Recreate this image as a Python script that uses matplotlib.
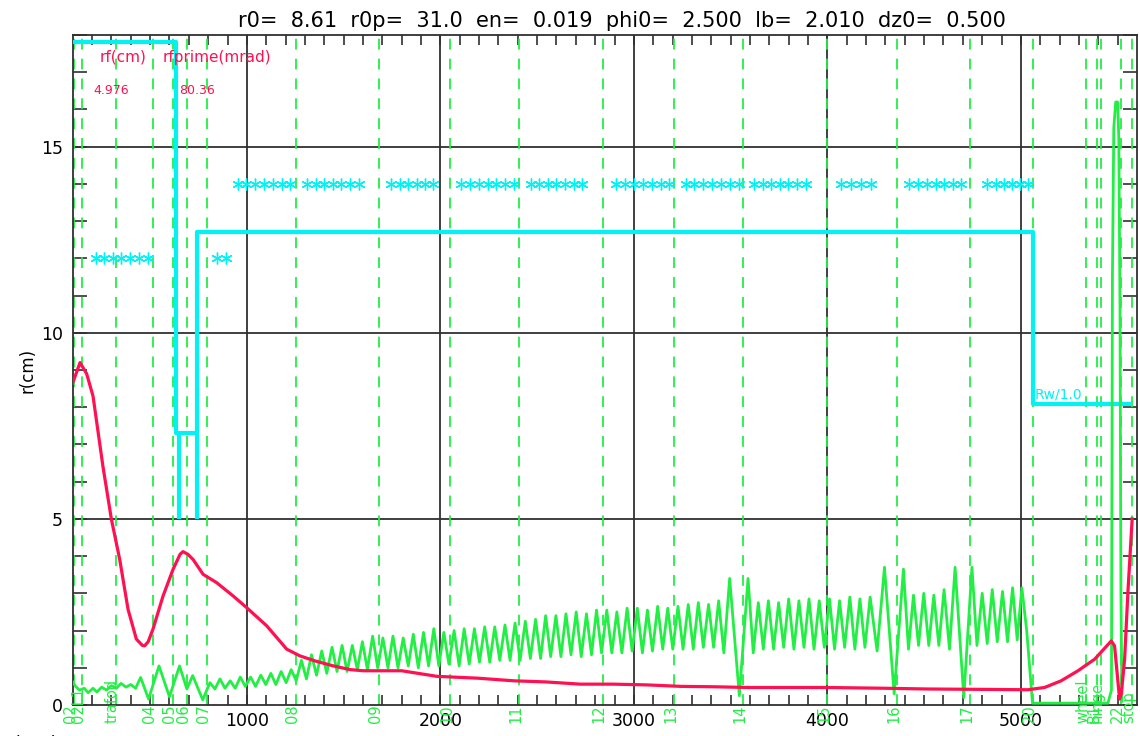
import numpy as np
import matplotlib
matplotlib.use("Agg")
import matplotlib.pyplot as plt
import matplotlib.transforms as mtransforms

plt.rcParams['font.family'] = ['DejaVu Sans']

title = "r0=  8.61  r0p=  31.0  en=  0.019  phi0=  2.500  lb=  2.010  dz0=  0.500"

# beam envelope r(z) (red)
red_z = [100, 138, 172, 205, 256, 300, 343, 386, 429, 460, 472, 490, 515, 567, 619, 655,
         670, 695, 722, 774, 843, 929, 998, 1102, 1206, 1274, 1355, 1447, 1535, 1602, 1700,
         1800, 1982, 2195, 2379, 2545, 2724, 2895, 3069, 3245, 3414, 3595, 3759, 4001,
         4295, 4518, 4795, 5036, 5122, 5208, 5295, 5381, 5467, 5484, 5510, 5519, 5536,
         5553, 5575]
red_r = [8.65, 9.2, 8.9, 8.3, 6.42, 4.99, 3.91, 2.57, 1.77, 1.6, 1.59, 1.7, 2.04, 2.93,
         3.65, 4.05, 4.12, 4.05, 3.91, 3.51, 3.29, 2.93, 2.62, 2.13, 1.50, 1.32, 1.18,
         1.05, 0.95, 0.92, 0.92, 0.92, 0.77, 0.72, 0.65, 0.62, 0.56, 0.56, 0.54, 0.50,
         0.49, 0.47, 0.47, 0.47, 0.45, 0.43, 0.42, 0.41, 0.47, 0.65, 0.92, 1.23, 1.72,
         1.59, 0.16, 0.30, 1.23, 3.03, 5.0]

# green oscillating trace, early part
green_z_a = [100, 115, 135, 160, 180, 205, 225, 250, 275, 300, 325, 350, 375, 400, 425,
             451, 492, 546, 600, 652, 690, 720, 772]
green_r_a = [0.62, 0.50, 0.40, 0.45, 0.33, 0.45, 0.35, 0.48, 0.40, 0.52, 0.45, 0.58,
             0.48, 0.55, 0.45, 0.74, 0.16, 1.05, 0.22, 1.05, 0.43, 0.79, 0.14]

# green oscillating trace, main part (alternating peaks and troughs)
green_z_b = [809, 835, 861, 887, 914, 940, 966, 992, 1019, 1045, 1072, 1098, 1124, 1150,
             1177, 1203, 1229, 1255, 1282, 1308, 1334, 1360, 1387, 1413, 1440, 1466,
             1492, 1518, 1545, 1571, 1597, 1623, 1650, 1676, 1703, 1729, 1755, 1781,
             1808, 1834, 1860, 1886, 1913, 1939, 1966, 1992, 2018, 2044, 2071, 2097,
             2123, 2149, 2176, 2202, 2229, 2255, 2281, 2307, 2334, 2360, 2386, 2412,
             2439, 2465, 2492, 2518, 2544, 2570, 2597, 2623, 2649, 2675, 2702, 2728,
             2755, 2781, 2807, 2833, 2860, 2886, 2912, 2938, 2965, 2991, 3018, 3044,
             3070, 3096, 3123, 3149, 3175, 3201, 3228, 3254, 3281, 3307, 3333, 3359,
             3386, 3412, 3438, 3465, 3495, 3545, 3590, 3617, 3643, 3669, 3695, 3722,
             3748, 3774, 3800, 3827, 3853, 3879, 3905, 3931, 3958, 3984, 4011, 4037,
             4063, 4089, 4116, 4142, 4168, 4194, 4221, 4257, 4295, 4345, 4393, 4419,
             4445, 4471, 4498, 4524, 4550, 4576, 4603, 4631, 4660, 4705, 4747, 4773,
             4800, 4826, 4852, 4878, 4905, 4931, 4957, 4981, 5005, 5030, 5060]
green_r_b = [0.60, 0.43, 0.70, 0.45, 0.65, 0.45, 0.75, 0.50, 0.75, 0.50, 0.80, 0.55,
             0.85, 0.55, 0.90, 0.60, 0.95, 0.65, 1.20, 0.70, 1.35, 0.80, 1.45, 0.85,
             1.55, 0.90, 1.60, 0.90, 1.60, 0.95, 1.70, 0.95, 1.85, 1.00, 1.80, 1.00,
             1.85, 1.00, 1.80, 1.05, 1.90, 1.00, 1.95, 1.05, 2.05, 1.05, 1.95, 1.10,
             2.00, 1.05, 2.05, 1.10, 2.05, 1.15, 2.10, 1.15, 2.10, 1.20, 2.15, 1.20,
             2.20, 1.20, 2.25, 1.25, 2.30, 1.25, 2.40, 1.30, 2.40, 1.30, 2.45, 1.35,
             2.50, 1.30, 2.45, 1.35, 2.55, 1.40, 2.55, 1.40, 2.50, 1.40, 2.60, 1.45,
             2.60, 1.40, 2.55, 1.45, 2.65, 1.50, 2.60, 1.50, 2.65, 1.50, 2.70, 1.50,
             2.75, 1.55, 2.70, 1.55, 2.80, 1.40, 3.40, 0.25, 3.40, 1.40, 2.75, 1.50,
             2.80, 1.50, 2.75, 1.55, 2.85, 1.50, 2.80, 1.55, 2.85, 1.50, 2.80, 1.55,
             2.85, 1.50, 2.80, 1.55, 2.90, 1.50, 2.85, 1.55, 2.90, 1.45, 3.70, 0.30,
             3.65, 1.50, 2.95, 1.60, 3.00, 1.60, 2.95, 1.60, 3.10, 1.50, 3.70, 0.20,
             3.70, 1.60, 3.00, 1.65, 3.10, 1.70, 3.05, 1.70, 3.15, 1.75, 3.15, 2.00,
             0.05]

# green trace, end part
green_z_c = [5450, 5468, 5473, 5480, 5490, 5500, 5506, 5512, 5517, 5522]
green_r_c = [0.05, 0.4, 11.5, 15.5, 16.2, 16.2, 15.2, 10.8, 3.0, 0.1]

# aperture (cyan step line), NaN separates pieces
ap_z = [100, 632, 632, 741, np.nan, 649, 649, np.nan, 741, 741, 5062, 5062, 5573]
ap_r = [17.8, 17.8, 7.3, 7.3, np.nan, 7.3, 5.0, np.nan, 5.0, 12.7, 12.7, 8.1, 8.1]

# cyan asterisk markers
star12_z = [218, 263, 308, 352, 397, 442, 487, 846, 892]
star14_z = [952, 998, 1043, 1089, 1134, 1180, 1225,
            1313, 1357, 1401, 1445, 1489, 1533, 1577,
            1747, 1790, 1834, 1877, 1921, 1964,
            2109, 2154, 2199, 2244, 2288, 2333, 2378,
            2466, 2511, 2555, 2600, 2645, 2689, 2734,
            2910, 2956, 3001, 3047, 3093, 3138, 3184,
            3267, 3313, 3358, 3404, 3450, 3495, 3541,
            3623, 3667, 3711, 3755, 3799, 3843, 3887,
            4068, 4120, 4172, 4223,
            4424, 4469, 4514, 4559, 4603, 4648, 4693,
            4827, 4869, 4912, 4954, 4997, 5039]

# element positions and labels (green dashed lines)
elem_z = [107, 148, 324, 515, 618, 691, 794, 1254, 1683, 2050, 2406, 2840, 3207, 3564,
          3998, 4360, 4737, 5063, 5337, 5394, 5414, 5518, 5575]
elem_lab = ["02", "02L1", "trafod", "04", "05", "06", "07", "08", "09", "10", "11", "12",
            "13", "14", "15", "16", "17", "20", "wheeL", "B1", "hinge", "22", "stop"]

xticks = [1000, 2000, 3000, 4000, 5000]
yticks = [0, 5, 10, 15]

fig = plt.figure(figsize=(11.4, 7.36), dpi=100)
ax = fig.add_axes([72.7 / 1140, 1 - 705 / 736, (1137 - 72.7) / 1140, (705 - 35) / 736])
ax.set_xlim(100, 5600)
ax.set_ylim(0, 18)

GREEN = '#22EE44'
CYAN = '#00F2F2'
RED = '#FF1050'

for v in xticks:
    ax.axvline(v, color='#303030', lw=1.3, zorder=1)
for v in yticks[1:]:
    ax.axhline(v, color='#303030', lw=1.3, zorder=1)

for z in elem_z:
    ax.axvline(z, color=GREEN, lw=1.3, ls=(0, (6, 5)), zorder=2)

trans = mtransforms.blended_transform_factory(ax.transData, ax.transAxes)
for z, lab in zip(elem_z, elem_lab):
    ax.text(z - 18, -0.027, lab, rotation=90, color=GREEN, fontsize=10.5,
            ha='center', va='bottom', transform=trans, clip_on=False, zorder=6)

ax.plot(ap_z, ap_r, color=CYAN, lw=3.0, zorder=3, solid_capstyle='butt')
ax.plot(star12_z, [12.0] * len(star12_z), ls='none', marker=(6, 2, 0), ms=8.5,
        mec=CYAN, mew=1.0, zorder=3)
ax.plot(star14_z, [14.0] * len(star14_z), ls='none', marker=(6, 2, 0), ms=8.5,
        mec=CYAN, mew=1.0, zorder=3)
ax.text(5070, 8.15, "Rw/1.0", color=CYAN, fontsize=10, ha='left', va='bottom', zorder=3)

gz = green_z_a + green_z_b + green_z_c
gr = green_r_a + green_r_b + green_r_c
ax.plot(gz, gr, color=GREEN, lw=2.0, zorder=4)
ax.plot(red_z, red_r, color=RED, lw=2.3, zorder=5)

ax.text(241, 17.4, "rf(cm)", color=RED, fontsize=11, ha='left', va='center')
ax.text(567, 17.4, "rfprime(mrad)", color=RED, fontsize=11, ha='left', va='center')
ax.text(205, 16.5, "4.976", color=RED, fontsize=9, ha='left', va='center')
ax.text(650, 16.5, "80.36", color=RED, fontsize=9, ha='left', va='center')

ax.set_xticks(xticks)
ax.set_yticks(yticks)
ax.set_xticks(np.arange(200, 5600, 100), minor=True)
ax.set_yticks(np.arange(0, 19, 1), minor=True)
ax.tick_params(which='both', direction='in', top=True, right=True, colors='#303030',
               labelcolor='black', labelsize=12.5)
ax.tick_params(axis='x', which='both', length=7, width=1.2, pad=5)
ax.tick_params(axis='y', which='both', length=10, width=1.2, pad=7)
for s in ax.spines.values():
    s.set_color('#303030')
    s.set_linewidth(1.3)

ax.set_ylabel("r(cm)", fontsize=12, labelpad=3)
fig.text(622 / 1140, 1 - 27 / 736, title, fontsize=15, ha='center', va='baseline')
fig.text(3 / 1140, 1 - 750 / 736, "z(cm)", fontsize=14, ha='left', va='baseline')

fig.savefig("out.png", dpi=100)
